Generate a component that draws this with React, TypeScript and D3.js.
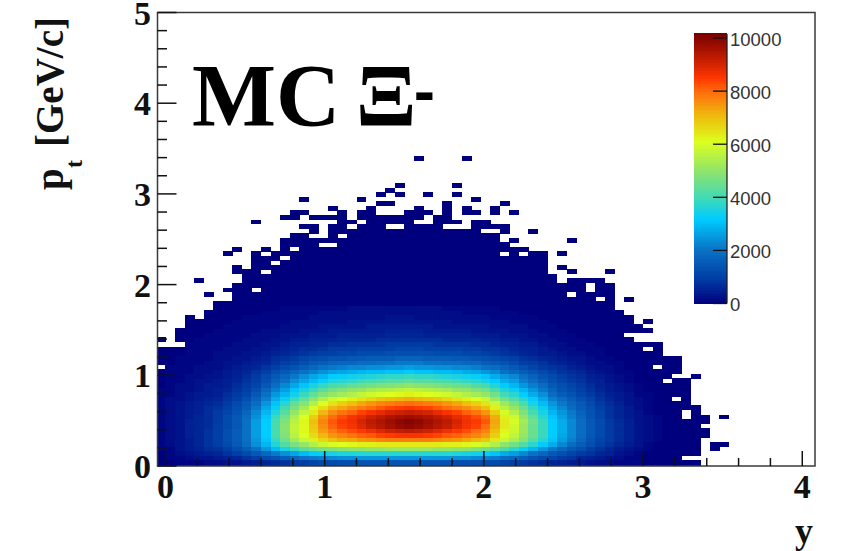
import React from "react";
import * as d3 from "d3";

const yTicks = [0, 1, 2, 3, 4, 5];
const xTicks = [0, 1, 2, 3, 4];
const barTicks = [0, 2000, 4000, 6000, 8000, 10000];
const paletteValues = [0, 1000, 2000, 3200, 4000, 5000, 6100, 7000, 8000, 8500, 9200, 10150];
const paletteColors = ["#00007f", "#0040a6", "#0a70c4", "#00ccff", "#42dab4", "#8fe46c", "#dcff1e", "#eec00e", "#ff6c0c", "#ff3800", "#c41e00", "#7a0000"];

// bin index of the lowest row is -1 and of the leftmost column is -1 (both clipped by the frame)
const rapidityBin = 0.06;
const ptBin = 0.05;
const ptBinOffset = 0.0175;

// counts per cell in hundreds; each row starts at column -1; first row is row -1
const rowCounts: number[][] = [
[0,0,0,1,1,1,1,1,2,2,2,3,3,4,5,5,6,6,7,7,8,8,8,8,8,8,8,8,8,8,8,8,8,7,7,6,6,5,5,4,4,3,3,2,2,1,1,1,1],
[0,0,1,1,1,2,2,3,3,4,5,6,7,8,9,10,11,12,12,13,13,14,14,14,14,14,14,14,14,14,14,13,13,13,12,12,11,10,9,8,7,6,5,4,4,3,2,2,1,1,1],
[0,1,1,2,3,3,4,5,6,8,10,12,14,16,18,20,21,22,23,24,24,25,25,25,25,25,25,25,25,25,25,24,24,23,22,21,19,18,16,14,12,11,9,8,6,5,4,3,2,1,1],
[0,1,2,3,4,5,6,8,10,12,15,18,21,24,27,30,32,33,35,36,36,37,37,37,37,37,37,37,37,37,37,36,35,34,33,31,28,26,23,20,18,15,13,11,9,8,6,5,3,2,1],
[1,1,3,4,5,7,8,10,13,16,20,25,30,35,39,43,45,47,48,49,50,50,51,51,52,52,52,52,52,51,51,50,50,48,46,44,41,37,33,29,25,21,18,15,13,10,8,6,4,3,2,1],
[1,2,3,4,6,8,10,12,15,19,24,29,36,42,47,51,55,58,60,61,62,63,63,64,64,64,64,64,64,64,63,63,62,60,58,55,50,46,42,37,32,28,23,19,16,13,10,8,6,4,3,1],
[1,2,3,4,6,8,10,13,16,20,25,31,39,46,53,58,63,67,70,72,73,75,76,77,78,78,78,78,78,77,76,75,73,71,69,64,58,54,49,43,37,31,26,22,18,14,11,9,7,5,3,2,1],
[1,2,3,5,6,8,10,13,16,20,26,32,41,48,56,61,66,71,75,77,79,81,82,84,85,86,86,86,85,84,82,81,79,77,74,68,61,57,51,45,39,32,27,23,19,15,12,9,7,5,3,2,1],
[1,2,3,5,6,8,10,13,16,20,26,32,41,49,57,62,68,74,78,81,83,85,87,89,91,92,93,92,91,89,87,85,83,80,77,70,62,58,52,45,39,32,28,23,19,15,12,9,7,5,3,2,1],
[1,2,3,5,6,7,10,12,15,20,26,32,41,49,57,62,69,76,81,84,86,89,92,94,96,98,99,98,96,94,92,89,86,84,80,72,64,59,52,45,39,32,28,23,19,15,12,9,7,5,3,2,1],
[1,2,3,5,6,7,9,12,15,20,26,32,41,48,56,62,70,77,82,85,87,90,93,95,97,99,100,99,97,95,93,90,87,85,82,73,64,60,53,46,39,32,28,23,19,15,12,9,7,5,3,2,1],
[1,2,3,4,6,7,9,12,15,19,24,31,39,46,54,61,68,75,80,83,86,88,91,93,95,96,97,96,95,93,91,88,86,83,80,72,63,59,51,44,37,31,26,22,18,14,11,8,6,4,3,2,1],
[1,2,3,4,5,7,9,11,14,18,23,29,36,43,51,57,64,71,76,79,81,84,86,88,90,91,92,91,90,88,86,84,81,79,75,68,60,55,48,41,35,29,25,21,17,14,11,8,6,4,3,1],
[1,2,3,4,5,7,8,10,13,16,21,27,33,40,47,53,60,66,71,73,76,78,80,82,84,85,86,85,84,82,80,78,76,73,70,63,56,51,45,38,33,27,23,19,16,13,10,8,6,4,2,1],
[1,2,3,4,5,6,7,9,12,15,19,25,31,37,44,49,55,61,65,68,70,73,75,77,78,79,80,79,78,77,75,73,70,68,65,58,52,47,41,35,30,25,21,18,15,12,9,7,5,3,2,1],
[1,2,2,3,4,5,6,8,10,13,17,22,28,33,39,44,50,55,59,61,63,65,67,69,70,71,72,71,70,69,67,65,63,61,58,52,46,42,37,32,27,22,19,16,13,11,8,6,4,3,2,1],
[1,1,2,3,4,4,5,7,9,11,15,20,25,29,34,39,44,48,51,53,55,57,59,60,61,62,63,62,61,60,59,57,55,53,51,46,40,37,32,28,24,19,16,14,11,9,7,5,4,3,1,1],
[1,1,2,2,3,4,5,6,8,10,13,18,22,26,31,35,39,43,46,48,50,51,53,54,55,56,57,56,55,54,53,51,50,48,46,41,36,33,29,25,21,17,14,12,10,8,6,4,3,2,1],
[0,1,2,2,3,4,4,5,7,9,11,15,19,23,27,31,35,38,41,42,44,45,46,47,48,49,50,49,48,47,46,45,44,42,40,36,32,29,25,22,19,15,13,11,9,7,5,4,3,2,1],
[0,1,1,2,3,3,4,5,6,8,10,13,17,20,24,27,30,33,36,37,38,40,41,42,43,43,44,43,43,42,41,40,38,37,35,32,28,26,22,19,16,13,11,9,8,6,5,3,2,1],
[0,1,1,2,2,3,3,4,5,7,9,12,15,18,21,24,27,29,32,33,34,35,36,37,38,38,39,38,38,37,36,35,34,33,31,28,25,23,20,17,14,12,10,8,7,5,4,3,2,1],
[0,1,1,1,2,2,3,4,5,6,8,10,13,15,18,20,22,24,26,27,28,29,30,30,31,31,32,31,31,30,30,29,28,27,25,23,20,18,16,14,12,10,8,7,6,4,3,2,1,1],
[0,1,1,1,2,2,2,3,4,5,6,8,10,12,14,16,18,20,21,22,23,23,24,24,25,25,26,25,25,24,24,23,23,22,20,19,17,15,13,11,9,8,7,5,4,3,2,2,1],
[0,0,1,1,1,2,2,3,3,4,5,6,8,10,11,13,15,16,17,18,18,19,19,20,20,21,21,21,20,20,19,19,18,18,16,15,14,12,10,9,8,6,5,4,3,2,2,1,1],
[0,0,1,1,1,1,2,2,3,3,4,5,7,8,9,11,12,13,14,14,15,15,16,16,16,17,17,17,16,16,16,15,15,14,13,12,11,10,8,7,6,5,4,3,3,2,1,1],
[0,0,0,1,1,1,2,2,2,3,3,4,5,6,7,8,9,10,10,11,11,12,12,12,13,13,13,13,13,12,12,12,11,11,10,9,8,7,6,5,4,4,3,2,2,1,1],
[0,0,0,1,1,1,1,2,2,2,3,3,4,5,6,7,7,8,9,9,9,10,10,10,10,11,11,11,10,10,10,10,9,9,8,8,7,6,5,5,4,3,2,2,1,1,1],
[0,0,0,1,1,1,1,1,2,2,2,3,3,4,5,5,6,6,7,7,8,8,8,8,9,9,9,9,9,8,8,8,8,7,7,6,5,5,4,4,3,2,2,1,1,1],
[0,0,0,0,1,1,1,1,1,2,2,2,3,3,4,4,5,5,5,6,6,6,6,7,7,7,7,7,7,7,6,6,6,6,5,5,4,4,3,3,2,2,1,1,1],
[0,0,0,0,0,1,1,1,1,1,2,2,2,3,3,3,4,4,4,5,5,5,5,5,6,6,6,6,5,5,5,5,5,4,4,4,3,3,3,2,2,1,1,1],
[0,0,0,0,0,0,1,1,1,1,1,2,2,2,2,3,3,3,4,4,4,4,4,4,5,5,5,5,4,4,4,4,4,3,3,3,3,2,2,2,1,1,1],
[0,0,0,0,0,0,0,1,1,1,1,1,1,2,2,2,2,3,3,3,3,3,4,4,4,4,4,4,4,3,3,3,3,3,3,2,2,2,2,1,1,1],
[0,0,0,0,0,0,0,0,1,1,1,1,1,1,2,2,2,2,2,2,3,3,3,3,3,3,3,3,3,3,3,2,2,2,2,2,2,1,1,1,1],
[0,0,0,0,0,0,0,0,0,1,1,1,1,1,1,1,2,2,2,2,2,2,2,2,3,3,3,2,2,2,2,2,2,2,2,1,1,1,1,1],
[0,0,0,0,0,0,0,0,0,0,0,1,1,1,1,1,1,2,2,2,2,2,2,2,2,2,2,2,2,2,2,2,1,1,1,1,1,1],
[0,0,0,0,0,0,0,0,0,0,0,0,0,1,1,1,1,1,1,1,2,2,2,2,2,2,2,2,2,2,1,1,1,1,1,1],
];

// filled column runs [first, last] for each row, row -1 first; every other cell of the frame is empty
const rowRuns: [number, number[][]][] = [
[-1,[[-1,55]]],[0,[[-1,55]]],[1,[[-1,53]]],[2,[[-1,55]]],[3,[[-1,55],[57,57]]],[4,[[-1,55],[57,58]]],[5,[[-1,55]]],[6,[[-1,56]]],[7,[[-1,56]]],[8,[[-1,55]]],[9,[[-1,56]]],
[10,[[-1,53],[55,56],[58,58]]],[11,[[-1,53],[55,55]]],[12,[[-1,55]]],[13,[[-1,54]]],[14,[[-1,52],[54,54]]],[15,[[-1,54]]],[16,[[-1,54]]],[17,[[-1,54]]],[18,[[-1,51],[53,54]]],[19,[[-1,52],[55,55]]],
[20,[[-1,53]]],[21,[[0,50],[52,53]]],[22,[[-1,53]]],[23,[[-1,53]]],[24,[[-1,51]]],[25,[[-1,49],[51,51]]],[26,[[2,51]]],[27,[[-1,-1],[1,48]]],[28,[[1,47]]],[29,[[1,50]]],
[30,[[2,49]]],[31,[[2,48],[50,50]]],[32,[[2,2],[4,48]]],[33,[[4,47]]],[34,[[5,46]]],[35,[[5,46]]],[36,[[7,44],[46,46],[48,48]]],[37,[[4,4],[7,41],[43,46]]],[38,[[6,8],[10,43],[45,46]]],[39,[[7,43],[45,46]]],
[40,[[3,3],[8,40],[42,45]]],[41,[[8,40]]],[42,[[7,9],[11,39],[42,42],[46,46]]],[43,[[7,7],[9,39],[41,41]]],[44,[[9,10],[12,39]]],[45,[[9,11],[13,39]]],[46,[[6,6],[9,9],[11,34],[36,36],[38,39],[41,41]]],[47,[[7,7],[10,10],[12,12],[14,37]]],[48,[[12,15],[18,35]]],[49,[[12,34],[36,36],[42,42]]],
[50,[[13,14],[17,17],[19,34]]],[51,[[15,15],[17,32],[35,35],[38,38]]],[52,[[14,15],[17,18],[20,22],[25,28],[32,35]]],[53,[[9,9],[18,19],[21,25],[28,30],[32,33]]],[54,[[12,13],[15,18],[20,26],[28,29]]],[55,[[13,14],[18,18],[20,21],[25,27],[29,29],[31,32],[34,34],[36,36]]],[56,[[17,17],[21,21],[26,26],[29,29],[31,31],[34,34]]],[57,[[22,23],[29,29],[35,35]]],[58,[[14,14],[20,20],[32,32]]],[59,[[22,22],[24,24],[27,27],[30,30]]],
[60,[[23,23]]],[61,[[24,24],[30,30]]],[67,[[26,26],[31,31]]],
];

const W = 845, H = 551;
const L = 157.5, R = 815, T = 12.5, B = 466;
const x = d3.scaleLinear().domain([-0.05, 4.08]).range([L, R]);
const y = d3.scaleLinear().domain([0, 5]).range([B, T]);
const bar = d3.scaleLinear().domain([0, 10000]).range([303.5, 38]);
const color = d3.scaleLinear<string>().domain(paletteValues).range(paletteColors).interpolate(d3.interpolateRgb).clamp(true);

const serif = "'Liberation Serif','Times New Roman',serif";
const sans = "'Liberation Sans',Arial,sans-serif";

const cells = rowRuns.flatMap(([row, runs]) =>
  runs.flatMap(([a, b]) =>
    d3.range(a, b + 1).map((col) => ({ row, col, v: (rowCounts[row + 1]?.[col + 1] ?? 0) * 100 }))
  )
);
const barSteps = d3.range(0, 10150, 60);

export default function App() {
  return (
    <svg width={W} height={H} style={{ position: "absolute", left: 0, top: 0, background: "#fff" }}>
      <defs>
        <clipPath id="plot"><rect x={L} y={T} width={R - L} height={B - T} /></clipPath>
      </defs>
      <g clipPath="url(#plot)" shapeRendering="crispEdges">
        {cells.map((d) => (
          <rect
            key={d.row + "_" + d.col}
            x={x(d.col * rapidityBin)}
            width={x(rapidityBin) - x(0) + 0.4}
            y={y(ptBinOffset + (d.row + 1) * ptBin)}
            height={y(0) - y(ptBin) + 0.4}
            fill={color(d.v)}
          />
        ))}
      </g>
      <rect x={L} y={T} width={R - L} height={B - T} fill="none" stroke="#3a3a3a" strokeWidth={1.5} />
      {d3.range(0, 4.01, 0.2).map((t) => {
        const major = Math.abs(t - Math.round(t)) < 1e-6;
        return <line key={"xt" + t} x1={x(t)} x2={x(t)} y1={B} y2={B - (major ? 15 : 8)} stroke="#111" strokeWidth={1.5} />;
      })}
      {d3.range(0, 5.01, 0.2).map((t) => {
        const major = Math.abs(t - Math.round(t)) < 1e-6;
        return <line key={"yt" + t} x1={L} x2={L + (major ? 19 : 9.5)} y1={y(t)} y2={y(t)} stroke="#111" strokeWidth={1.5} />;
      })}
      {xTicks.map((t) => (
        <text key={"xl" + t} x={x(t)} y={498} textAnchor="middle" fontFamily={serif} fontWeight="bold" fontSize={34} fill="#111">{t}</text>
      ))}
      {yTicks.map((t) => (
        <text key={"yl" + t} x={151} y={y(t) + 12} textAnchor="end" fontFamily={serif} fontWeight="bold" fontSize={34} fill="#111">{t}</text>
      ))}
      <text x={813} y={543} textAnchor="end" fontFamily={serif} fontWeight="bold" fontSize={36} fill="#111">y</text>
      <g fontFamily={serif} fontWeight="bold" fill="#111">
        <text transform="translate(63,190) rotate(-90)" fontSize={39}>p</text>
        <text transform="translate(82,168) rotate(-90)" fontSize={24}>t</text>
        <text transform="translate(63,147) rotate(-90)" fontSize={39}>[GeV/c]</text>
      </g>
      <text x={192} y={125} fontFamily={serif} fontWeight="bold" fontSize={89} fill="#000">MC</text>
      <text x={356} y={125} fontFamily={serif} fontWeight="bold" fontSize={89} fill="#000">Ξ</text>
      <text transform="translate(414,117) scale(0.7,1)" fontFamily={serif} fontWeight="bold" fontSize={89} fill="#000">-</text>
      <g shapeRendering="crispEdges">
        {barSteps.map((v) => (
          <rect key={"b" + v} x={694} width={33} y={bar(v + 60)} height={bar(v) - bar(v + 60) + 0.5} fill={color(v + 30)} />
        ))}
      </g>
      <line x1={727} x2={727} y1={34} y2={303.5} stroke="#222" strokeWidth={1.3} />
      {barTicks.map((t) => (
        <g key={"bt" + t}>
          <line x1={713} x2={727} y1={bar(t)} y2={bar(t)} stroke="#111" strokeWidth={1.3} />
          <text x={730} y={bar(t) + 7.5} fontFamily={sans} fontSize={18.5} fill="#333">{t}</text>
        </g>
      ))}
    </svg>
  );
}
